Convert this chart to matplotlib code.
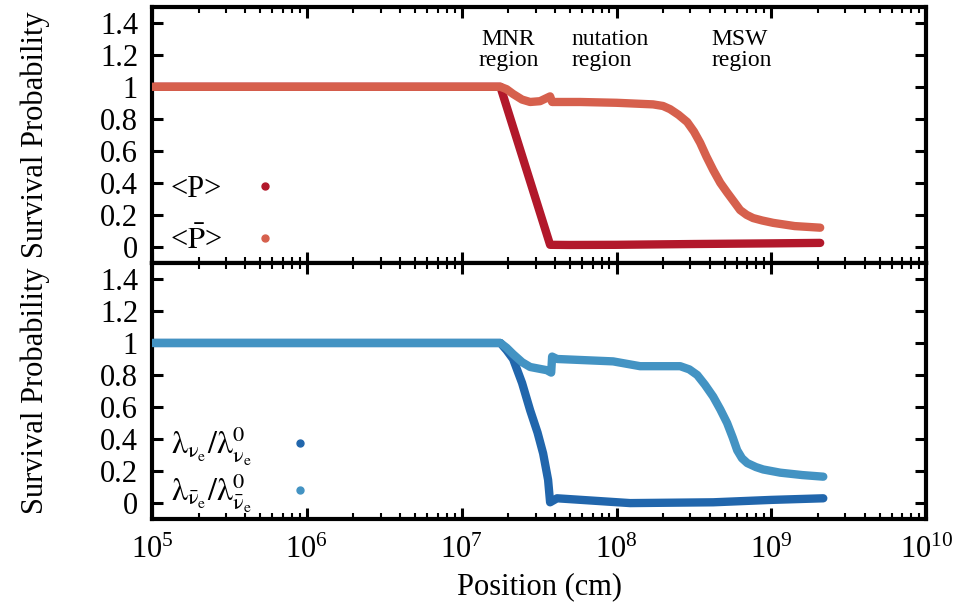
import matplotlib
matplotlib.use("Agg")
import matplotlib.pyplot as plt
import numpy as np
from matplotlib.lines import Line2D
from matplotlib.ticker import LogLocator, NullFormatter

plt.rcParams['font.family'] = ['Liberation Serif', 'DejaVu Serif']
plt.rcParams['mathtext.fontset'] = 'stix'

# log10(position / cm)
p_logx = [5.0, 7.25, 7.571, 7.7, 8.0, 8.5, 9.0, 9.315]
p_val = [1.0, 1.0, 0.013, 0.012, 0.013, 0.018, 0.022, 0.025]

pbar_logx = [5.0, 7.25, 7.29, 7.332, 7.39, 7.442, 7.506, 7.571, 7.584, 7.765,
             8.0, 8.236, 8.3, 8.346, 8.40, 8.456, 8.50, 8.54, 8.58, 8.624,
             8.67, 8.714, 8.76, 8.798, 8.84, 8.882, 8.94, 9.012, 9.15, 9.315]
pbar_val = [1.0, 1.0, 0.985, 0.955, 0.92, 0.905, 0.91, 0.94, 0.905, 0.905,
            0.90, 0.89, 0.88, 0.86, 0.825, 0.78, 0.72, 0.65, 0.565, 0.48,
            0.40, 0.34, 0.28, 0.23, 0.20, 0.18, 0.165, 0.15, 0.13, 0.12]

lam_logx = [5.0, 7.25, 7.29, 7.332, 7.39, 7.442, 7.49, 7.526, 7.558, 7.571,
            7.616, 8.088, 8.624, 9.0, 9.335]
lam_val = [1.0, 1.0, 0.955, 0.90, 0.75, 0.58, 0.44, 0.31, 0.145, 0.005,
           0.03, 0.0, 0.005, 0.02, 0.03]

lbar_logx = [5.0, 7.25, 7.29, 7.332, 7.39, 7.442, 7.55, 7.578, 7.584, 7.616,
             7.978, 8.152, 8.411, 8.47, 8.521, 8.57, 8.624, 8.67, 8.714,
             8.75, 8.779, 8.81, 8.844, 8.90, 8.947, 9.057, 9.2, 9.335]
lbar_val = [1.0, 1.0, 0.97, 0.93, 0.88, 0.85, 0.83, 0.815, 0.915, 0.90,
            0.885, 0.855, 0.855, 0.835, 0.80, 0.74, 0.665, 0.585, 0.50,
            0.41, 0.33, 0.28, 0.25, 0.225, 0.21, 0.19, 0.175, 0.165]

yticks = [0, 0.2, 0.4, 0.6, 0.8, 1, 1.2, 1.4]
ytick_labels = ['0', '0.2', '0.4', '0.6', '0.8', '1', '1.2', '1.4']

c_p, c_pbar = '#b2182b', '#d6604d'
c_l, c_lbar = '#2166ac', '#4393c3'

fig = plt.figure(figsize=(9.74, 6.10), dpi=100)
ax1 = fig.add_axes([0.156, 0.569, 0.795, 0.420])
ax2 = fig.add_axes([0.156, 0.149, 0.795, 0.420], sharex=ax1)

fs = 22
lw = 6
kw = dict(lw=lw, solid_capstyle='round', solid_joinstyle='round')

ax1.plot(10 ** np.array(p_logx), p_val, color=c_p, zorder=2, **kw)
ax1.plot(10 ** np.array(pbar_logx), pbar_val, color=c_pbar, zorder=3, **kw)
ax2.plot(10 ** np.array(lam_logx), lam_val, color=c_l, zorder=2, **kw)
ax2.plot(10 ** np.array(lbar_logx), lbar_val, color=c_lbar, zorder=3, **kw)

for ax in (ax1, ax2):
    ax.set_xscale('log')
    ax.set_xlim(1e5, 1e10)
    ax.set_ylim(-0.1, 1.5)
    ax.set_yticks(yticks)
    ax.set_yticklabels(ytick_labels)
    ax.xaxis.set_major_locator(LogLocator(base=10, numticks=10))
    ax.xaxis.set_minor_locator(LogLocator(base=10, subs=np.arange(2, 10), numticks=20))
    ax.xaxis.set_minor_formatter(NullFormatter())
    ax.tick_params(which='major', direction='in', length=8, width=2.2,
                   top=True, right=True, labelsize=fs, pad=10)
    ax.tick_params(which='minor', direction='in', length=4, width=1.5,
                   top=True, right=True)
    for s in ax.spines.values():
        s.set_linewidth(3)
    ax.set_ylabel('Survival Probability', fontsize=fs, labelpad=36)

ax1.tick_params(labelbottom=False)
ax2.tick_params(axis='x', pad=12)
ax2.set_xlabel('Position (cm)', fontsize=fs, labelpad=5)

# region labels
ax1.text(2.0e7, 1.23, 'MNR\nregion', fontsize=17, ha='center', va='center',
         linespacing=1.0)
ax1.text(5.1e7, 1.23, 'nutation\nregion', fontsize=17, ha='left', va='center',
         linespacing=1.0)
ax1.text(4.1e8, 1.23, 'MSW\nregion', fontsize=17, ha='left', va='center',
         linespacing=1.0)

h1 = [Line2D([], [], ls='none', marker='o', ms=5, color=c_p),
      Line2D([], [], ls='none', marker='o', ms=5, color=c_pbar)]
ax1.legend(h1, ['<P>', r'<$\bar{\mathrm{P}}$>'], loc='lower left',
           bbox_to_anchor=(0.0, -0.045), frameon=False, markerfirst=False,
           fontsize=fs, handlelength=1.0, handletextpad=0.9, labelspacing=0.75,
           borderaxespad=0.2)

h2 = [Line2D([], [], ls='none', marker='o', ms=5, color=c_l),
      Line2D([], [], ls='none', marker='o', ms=5, color=c_lbar)]
ax2.legend(h2, [r'$\mathrm{\lambda_{\nu_e}/\lambda^0_{\nu_e}}$',
                r'$\mathrm{\lambda_{\bar{\nu}_e}/\lambda^0_{\bar{\nu}_e}}$'],
           loc='lower left', bbox_to_anchor=(0.0, -0.06), frameon=False,
           markerfirst=False, fontsize=23, handlelength=1.0, handletextpad=1.0,
           labelspacing=0.12, borderaxespad=0.2)

fig.savefig('out.png', dpi=100)
